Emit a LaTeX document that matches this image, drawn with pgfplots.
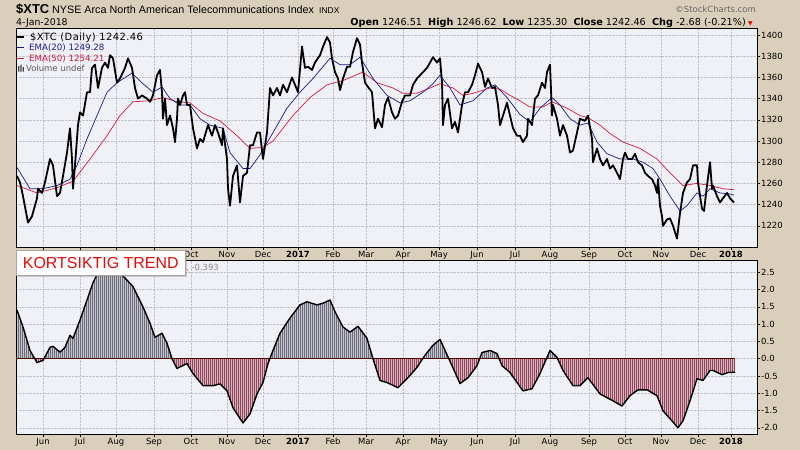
\documentclass[border=0pt]{standalone}
\usepackage{fontspec}
\setmainfont{DejaVu Sans}
\newfontfamily\arial{Liberation Sans}
\usepackage{pgfplots}
\usepackage{pgfplotstable}
\pgfplotsset{compat=1.18}
\usetikzlibrary{shadows,patterns.meta}

\definecolor{outerbg}{RGB}{218,207,186}
\definecolor{panelbg}{RGB}{240,240,247}
\definecolor{gridc}{RGB}{192,192,202}
\definecolor{emablue}{RGB}{25,25,140}
\definecolor{emared}{RGB}{215,25,60}
\definecolor{poslight}{RGB}{196,196,206}
\definecolor{posdark}{RGB}{108,108,122}
\definecolor{neglight}{RGB}{220,178,190}
\definecolor{negdark}{RGB}{140,72,92}
\definecolor{boxred}{RGB}{228,10,10}

\tikzdeclarepattern{
  name=daybars,
  type=uncolored,
  bounding box={(0,0) and (1.8bp,1bp)},
  tile size={(1.8bp,1bp)},
  code={\fill (0,0) rectangle (1bp,1bp);}
}

% x values are positions along the date axis (Jun 2016 .. Jan 2018)
\pgfplotstableread{
x y
17 1267
20 1261
23 1248
28 1223
32 1229
37 1246
38 1255
42 1251
45 1261
50 1283
53 1277
57 1248
60 1251
63 1267
67 1289
70 1312
72 1283
73 1255
75 1277
78 1315
80 1327
83 1324
87 1346
90 1346
92 1369
95 1372
98 1350
102 1369
105 1374
108 1369
110 1381
113 1378
117 1355
120 1359
125 1369
128 1378
132 1369
135 1350
138 1340
142 1343
147 1340
150 1337
153 1343
157 1362
160 1367
162 1346
163 1321
165 1340
167 1315
170 1324
173 1312
175 1299
177 1321
178 1340
180 1334
183 1343
185 1346
187 1334
190 1334
193 1312
197 1293
200 1302
203 1299
208 1315
212 1305
215 1315
218 1308
222 1296
223 1312
227 1283
228 1255
230 1239
233 1267
237 1277
240 1242
243 1267
247 1270
250 1296
253 1296
257 1308
260 1308
263 1283
267 1308
270 1350
273 1343
277 1350
280 1343
283 1353
287 1346
292 1360
295 1353
298 1346
302 1389
305 1369
308 1370
312 1367
315 1374
320 1381
323 1389
327 1398
330 1393
332 1378
335 1365
338 1359
340 1348
343 1359
347 1370
350 1370
353 1384
357 1397
360 1391
362 1374
365 1355
368 1351
372 1346
375 1312
378 1321
382 1313
385 1334
388 1341
392 1327
395 1321
398 1324
402 1337
405 1343
410 1343
413 1353
417 1359
420 1362
423 1365
427 1369
430 1374
433 1379
437 1374
440 1378
442 1355
443 1315
445 1334
448 1340
452 1312
455 1318
458 1308
462 1334
465 1346
468 1346
472 1353
475 1362
478 1373
482 1365
485 1351
488 1359
492 1350
495 1351
498 1334
500 1315
503 1324
507 1336
510 1324
513 1312
517 1305
520 1305
523 1299
527 1305
528 1321
532 1315
535 1340
538 1343
542 1355
545 1350
547 1365
550 1372
552 1324
553 1334
557 1321
560 1305
563 1315
567 1305
570 1289
573 1291
577 1308
580 1321
585 1319
588 1324
592 1302
593 1280
597 1293
600 1283
603 1277
607 1283
610 1274
613 1277
617 1270
620 1264
623 1283
625 1289
628 1283
632 1283
635 1288
638 1280
642 1277
645 1270
648 1267
652 1264
655 1258
657 1251
658 1264
660 1239
662 1229
663 1220
667 1226
670 1227
673 1220
677 1208
680 1232
683 1251
687 1261
690 1264
693 1277
697 1277
698 1261
702 1236
704 1234
707 1258
710 1280
712 1255
713 1258
717 1248
720 1242
723 1246
727 1251
730 1246
734 1242
}\price

\pgfplotstableread{
x y
17 1275
30 1255
43 1255
57 1258
70 1264
77 1277
87 1302
97 1324
107 1346
117 1355
132 1364
143 1354
153 1346
162 1351
170 1340
180 1334
190 1334
200 1321
210 1315
223 1312
230 1289
243 1274
250 1274
260 1287
273 1308
287 1331
300 1346
313 1359
330 1378
340 1372
350 1372
360 1379
373 1359
387 1343
400 1336
410 1338
423 1346
433 1354
440 1362
450 1350
460 1334
473 1338
487 1350
495 1353
507 1341
520 1325
530 1318
540 1331
552 1341
560 1334
570 1321
580 1315
588 1317
597 1299
607 1288
620 1283
633 1283
643 1280
653 1274
660 1264
670 1248
680 1234
687 1239
697 1251
703 1248
710 1255
720 1251
730 1250
734 1249
}\emaA

\pgfplotstableread{
x y
17 1258
37 1251
57 1256
73 1262
90 1283
107 1305
120 1324
133 1337
150 1338
163 1341
177 1337
190 1336
203 1326
220 1319
237 1305
250 1293
263 1294
273 1300
293 1324
310 1341
327 1353
343 1357
363 1365
377 1355
393 1350
403 1345
417 1345
430 1350
440 1354
453 1350
463 1343
473 1345
490 1350
500 1349
510 1343
520 1338
530 1332
543 1332
552 1337
567 1331
580 1324
588 1322
600 1315
610 1307
623 1299
640 1293
657 1283
670 1270
683 1258
697 1260
710 1258
723 1255
734 1254
}\emaB

\pgfplotstableread{
x y
17 1.41
23 0.92
30 0.24
37 -0.11
43 -0.05
50 0.33
53 0.36
60 0.19
65 0.33
70 0.68
73 0.59
80 1.12
87 1.70
93 2.20
97 2.44
103 2.60
110 2.62
117 2.55
125 2.34
133 2.09
143 1.50
150 1.03
155 0.62
162 0.74
167 0.45
172 0.00
177 -0.28
187 -0.14
193 -0.43
203 -0.78
213 -0.78
220 -0.73
227 -0.93
233 -1.42
243 -1.86
250 -1.60
257 -1.02
263 -0.69
268 -0.14
273 0.24
280 0.74
290 1.18
300 1.56
307 1.65
317 1.56
323 1.61
330 1.70
335 1.36
343 0.92
350 0.77
358 0.94
367 0.59
373 0.00
380 -0.63
387 -0.69
398 -0.84
408 -0.55
417 -0.25
425 0.10
433 0.39
440 0.56
445 0.24
452 -0.20
460 -0.72
468 -0.55
477 -0.20
482 0.18
490 0.24
497 0.15
502 -0.20
510 -0.40
523 -0.93
532 -0.87
540 -0.43
547 0.04
550 0.24
557 0.04
563 -0.34
573 -0.78
580 -0.78
588 -0.55
600 -1.02
613 -1.22
622 -1.37
630 -1.07
638 -0.90
647 -0.90
657 -1.07
663 -1.51
672 -1.80
678 -2.00
683 -1.80
690 -1.22
697 -0.58
703 -0.63
710 -0.34
713 -0.34
722 -0.46
728 -0.40
735 -0.39
}\hist

\pgfplotsset{
  panel/.style={
    scale only axis, width=741bp,
    xmin=16, xmax=757,
    axis background/.style={fill=panelbg},
    axis line style={line width=0.6bp},
    grid=major,
    major grid style={densely dotted, gridc, line width=0.5bp},
    xtick={43,80,116,154,191,227,263,298,333,366,403,439,477,515,550,589,625,661,698,731},
    xtick pos=bottom, ytick pos=right, yticklabel pos=right,
    tick align=outside, major tick length=3bp,
    tick style={black, line width=0.5bp},
    ticklabel style={font=\fontsize{8.5}{10}\selectfont, inner sep=1bp},
    /pgf/number format/assume math mode=true,
  }
}

\begin{document}
\begin{tikzpicture}
\fill[outerbg] (0,0) rectangle (800bp,-450bp);

% price panel
\begin{axis}[panel, at={(16bp,-28bp)}, anchor=north west, height=219bp,
  ymin=1200, ymax=1406.6, ytick={1220,1240,...,1400},
  xticklabels={,,,,Oct,Nov,Dec,\textbf{2017},Feb,Mar,Apr,May,Jun,Jul,Aug,Sep,Oct,Nov,Dec,\textbf{2018}},
  yticklabel style={/pgf/number format/1000 sep={}}]
  \addplot[emared, line width=0.7bp] table {\emaB};
  \addplot[emablue, line width=0.7bp] table {\emaA};
  \addplot[black, line width=1.8bp, line join=round] table {\price};
\end{axis}

% oscillator panel
\begin{axis}[panel, at={(16bp,-260bp)}, anchor=north west, height=174bp,
  ymin=-2.18, ymax=2.86, ytick={-2,-1.5,...,2.5},
  xticklabels={Jun,Jul,Aug,Sep,Oct,Nov,Dec,\textbf{2017},Feb,Mar,Apr,May,Jun,Jul,Aug,Sep,Oct,Nov,Dec,\textbf{2018}},
  yticklabel style={/pgf/number format/.cd, fixed, fixed zerofill, precision=1}]
  \begin{scope}
    \clip (axis cs:16,0) rectangle (axis cs:757,3);
    \addplot[draw=none, preaction={fill=poslight}, pattern=daybars, pattern color=posdark] table {\hist} -- (axis cs:735,0) -- (axis cs:17,0) -- cycle;
  \end{scope}
  \begin{scope}
    \clip (axis cs:16,-3) rectangle (axis cs:757,0);
    \addplot[draw=none, preaction={fill=neglight}, pattern=daybars, pattern color=negdark] table {\hist} -- (axis cs:735,0) -- (axis cs:17,0) -- cycle;
  \end{scope}
  \addplot[black!55!red!70!black, line width=0.6bp] coordinates {(17,0) (735,0)};
  \addplot[black, line width=1.4bp, line join=round] table {\hist};
\end{axis}

% header
\node[anchor=base west, inner sep=0] at (16bp,-13.5bp) {\arial\bfseries\fontsize{13}{13}\selectfont\$XTC};
\node[anchor=base west, inner sep=0] at (52bp,-13.5bp) {\arial\fontsize{10.8}{12}\selectfont NYSE Arca North American Telecommunications Index};
\node[anchor=base west, inner sep=0] at (319bp,-13.5bp) {\arial\fontsize{8.5}{10}\selectfont INDX};
\node[anchor=base west, inner sep=0] at (16bp,-25.5bp) {\fontsize{9.4}{10}\selectfont 4-Jan-2018};
\node[anchor=base east, inner sep=0] at (746bp,-25.5bp) {\fontsize{9.7}{11}\selectfont \textbf{Open} 1246.51 \ \textbf{High} 1246.62 \ \textbf{Low} 1235.30 \ \textbf{Close} 1242.46 \ \textbf{Chg} -2.68 (-0.21\%)};
\node[anchor=base west, inner sep=0, text=boxred] at (748bp,-25.5bp) {\fontsize{6}{7}\selectfont ▼};
\node[anchor=base east, inner sep=0, text=black!60] at (756bp,-12bp) {\fontsize{8.5}{10}\selectfont ©StockCharts.com};

% legend
\fill[black] (17bp,-35.5bp) rectangle (24bp,-37.5bp);
\node[anchor=base west, inner sep=0] at (30bp,-40bp) {\fontsize{10}{11}\selectfont\addfontfeatures{LetterSpace=4}\$XTC (Daily) 1242.46};
\fill[emablue] (17bp,-46.5bp) rectangle (24bp,-48bp);
\node[anchor=base west, inner sep=0, text=emablue] at (29bp,-50.5bp) {\fontsize{8.7}{9}\selectfont EMA(20) 1249.28};
\fill[emared] (17bp,-57.5bp) rectangle (24bp,-59bp);
\node[anchor=base west, inner sep=0, text=emared] at (29bp,-61.5bp) {\fontsize{8.7}{9}\selectfont EMA(50) 1254.21};
\fill[black!75] (18bp,-71.5bp) rectangle (19.3bp,-66bp) (20.3bp,-71.5bp) rectangle (21.6bp,-64.5bp) (22.6bp,-71.5bp) rectangle (23.9bp,-67bp);
\node[anchor=base west, inner sep=0, text=black!65] at (26bp,-71.5bp) {\fontsize{8.5}{9}\selectfont Volume undef};

% label box over the oscillator panel
\node[anchor=base west, inner sep=0, text=black!45] at (186bp,-270.5bp) {\fontsize{8.5}{10}\selectfont , -0.393};
\node[anchor=north west, fill=white, draw=black!35, line width=0.5bp, drop shadow={shadow xshift=1.5bp, shadow yshift=-1.5bp, opacity=0.35},
  minimum width=169bp, minimum height=25bp, inner sep=0, text=boxred] at (16bp,-250bp)
  {\arial\fontsize{16}{18}\selectfont KORTSIKTIG TREND};

\pgfresetboundingbox
\useasboundingbox (0,0) rectangle (800bp,-450bp);
\end{tikzpicture}
\end{document}
